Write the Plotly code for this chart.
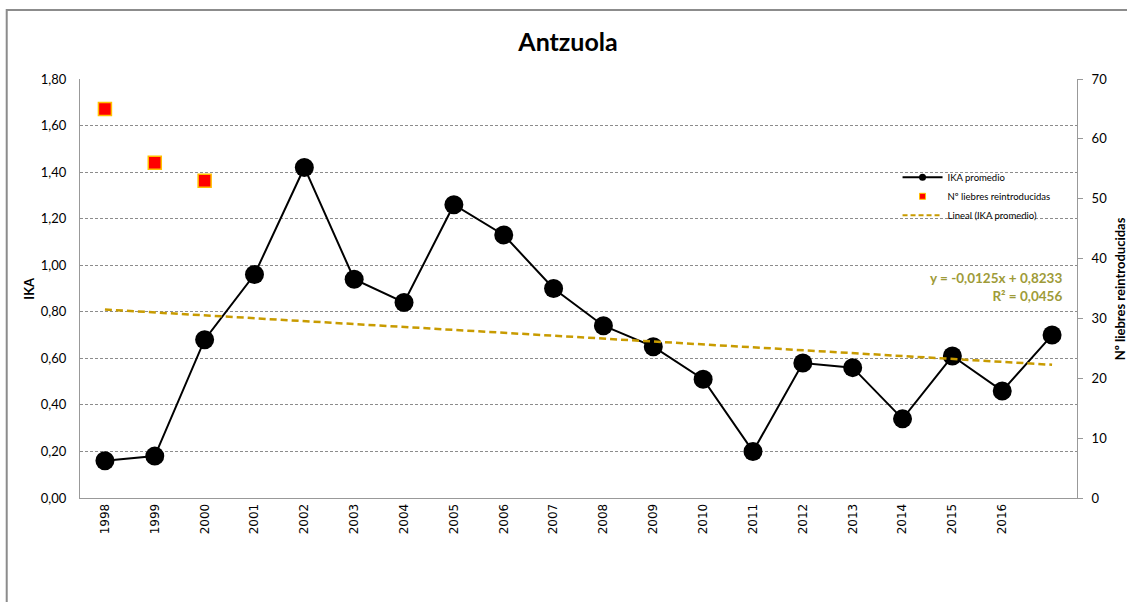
import numpy as np
import plotly.graph_objects as go

years = ["1998", "1999", "2000", "2001", "2002", "2003", "2004", "2005", "2006", "2007",
         "2008", "2009", "2010", "2011", "2012", "2013", "2014", "2015", "2016", ""]
ika = [0.16, 0.18, 0.68, 0.96, 1.42, 0.94, 0.84, 1.26, 1.13, 0.90,
       0.74, 0.65, 0.51, 0.20, 0.58, 0.56, 0.34, 0.61, 0.46, 0.70]
liebres_years = ["1998", "1999", "2000"]
liebres = [65, 56, 53]
left_ticks = [0, 0.2, 0.4, 0.6, 0.8, 1.0, 1.2, 1.4, 1.6, 1.8]
right_ticks = [0, 10, 20, 30, 40, 50, 60, 70]
eq_text = "y = -0,0125x + 0,8233<br>R² = 0,0456"

xpos = list(range(len(years)))
lpos = [years.index(y) for y in liebres_years]

# linear trend (Excel uses x = 1..n)
xn = np.arange(1, len(ika) + 1)
slope, intercept = np.polyfit(xn, ika, 1)
trend = slope * xn + intercept

TREND = "#C89B00"
fig = go.Figure()

fig.add_trace(go.Scatter(
    x=xpos, y=ika, mode="lines+markers", showlegend=False,
    line=dict(color="black", width=2),
    marker=dict(color="black", size=19), yaxis="y"))
fig.add_trace(go.Scatter(
    x=lpos, y=liebres, mode="markers", showlegend=False,
    marker=dict(symbol="square", color="#FF0000", size=13,
                line=dict(color="#FFC000", width=1.5)), yaxis="y2"))
fig.add_trace(go.Scatter(
    x=xpos, y=trend, mode="lines", showlegend=False,
    line=dict(color=TREND, width=2.5, dash="7px,4px"), yaxis="y"))

# legend entries
fig.add_trace(go.Scatter(x=[None], y=[None], mode="lines+markers", name="IKA promedio",
                         line=dict(color="black", width=2), marker=dict(color="black", size=7)))
fig.add_trace(go.Scatter(x=[None], y=[None], mode="markers", name="Nº liebres reintroducidas",
                         marker=dict(symbol="square", color="#FF0000", size=6,
                                     line=dict(color="#FFC000", width=1))))
fig.add_trace(go.Scatter(x=[None], y=[None], mode="lines", name="Lineal (IKA promedio)",
                         line=dict(color=TREND, width=2, dash="5px,3px")))

fig.update_layout(
    width=1127, height=602,
    margin=dict(l=80, r=50, t=79, b=104),
    paper_bgcolor="white", plot_bgcolor="white",
    separators=", ",
    title=dict(text="<b>Antzuola</b>", x=0.504, xanchor="center", y=0.93, yanchor="middle",
               font=dict(family="Lato", size=25, color="black")),
    xaxis=dict(range=[-0.5, len(years) - 0.5], tickmode="array",
               tickvals=xpos[:-1], ticktext=years[:-1], tickangle=-90,
               tickfont=dict(family="DejaVu Sans", size=12, color="black"),
               showgrid=False, zeroline=False, showline=True, linecolor="#999999",
               linewidth=1, ticks=""),
    yaxis=dict(range=[0, 1.8], tickmode="array", tickvals=left_ticks, tickformat=".2f",
               tickfont=dict(family="Lato", size=13, color="black"),
               showgrid=True, gridcolor="#8c8c8c", griddash="3px,2px", gridwidth=1,
               zeroline=False, showline=True, linecolor="#999999", linewidth=1,
               ticks="", ticklabelstandoff=10),
    yaxis2=dict(range=[0, 70], overlaying="y", side="right", tickmode="array",
                tickvals=right_ticks,
                tickfont=dict(family="Lato", size=13, color="black"),
                showgrid=False, zeroline=False, showline=True, linecolor="#999999",
                linewidth=1, ticks="outside", ticklen=5, tickcolor="#999999",
                ticklabelstandoff=6),
    legend=dict(x=0.82, y=0.8, xanchor="left", yanchor="top",
                bgcolor="rgba(0,0,0,0)", font=dict(family="Lato", size=9.5, color="black"),
                itemwidth=40, tracegroupgap=0),
    showlegend=True,
)

fig.add_annotation(text="<b>IKA</b>", xref="paper", yref="paper", x=-0.052, y=0.5,
                   xanchor="center", yanchor="middle", textangle=-90, showarrow=False,
                   font=dict(family="Lato", size=13, color="black"))
fig.add_annotation(text="<b>Nº liebres reintroducidas</b>", xref="paper", yref="paper",
                   x=1.043, y=0.5, xanchor="center", yanchor="middle", textangle=-90,
                   showarrow=False, font=dict(family="Lato", size=13, color="black"))
fig.add_annotation(text="<b>" + eq_text + "</b>", xref="paper", yref="paper",
                   x=0.987, y=0.504, xanchor="right", yanchor="middle", align="right",
                   showarrow=False, font=dict(family="Lato", size=13.5, color="#9E9B38"))

fig.add_shape(type="rect", xref="paper", yref="paper", x0=-0.0735, x1=1.2,
              y0=-0.5, y1=1.1647, line=dict(color="#8c8c8c", width=2), layer="below")

fig.write_html("out.html", config={"displayModeBar": False},
               post_script="document.body.style.margin='0';")
